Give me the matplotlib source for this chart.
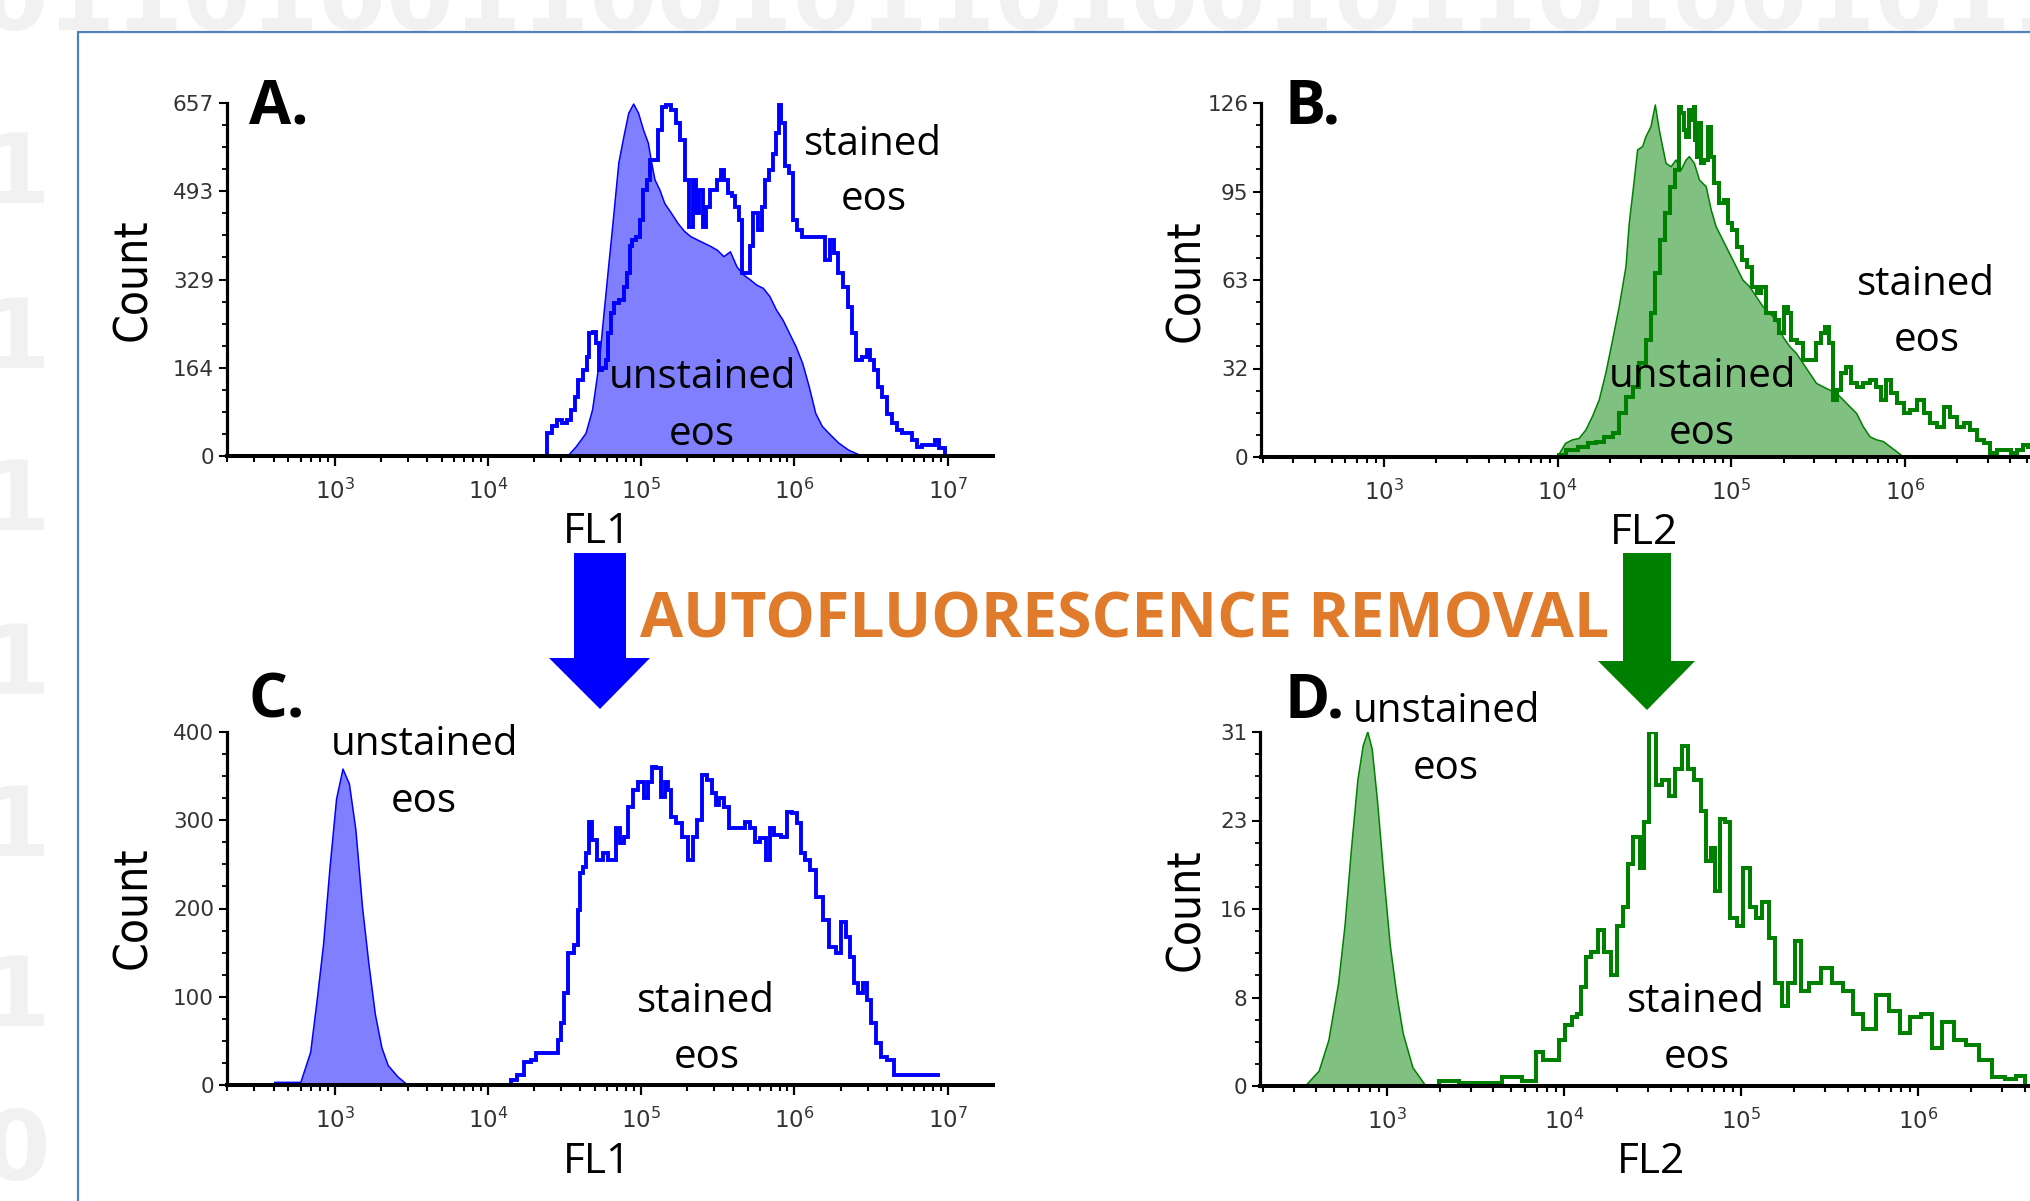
import matplotlib
matplotlib.use("Agg")
import matplotlib.pyplot as plt
import numpy as np
from matplotlib.patches import Polygon, Rectangle
from matplotlib.ticker import LogLocator, NullFormatter, FixedLocator

W, H = 2030, 1201

# ---------------- data (log10 fluorescence, counts) ----------------
a_unst_log = [4.522, 4.576, 4.640, 4.683, 4.726, 4.758, 4.790, 4.812, 4.854, 4.887,
              4.919, 4.951, 4.983, 5.015, 5.047, 5.069, 5.090, 5.122, 5.154, 5.197,
              5.240, 5.283, 5.325, 5.368, 5.411, 5.454, 5.497, 5.540, 5.582, 5.625,
              5.668, 5.711, 5.754, 5.797, 5.839, 5.882, 5.925, 5.968, 6.011, 6.054,
              6.096, 6.139, 6.182, 6.225, 6.289, 6.353, 6.439]
a_unst_cnt = [0, 17, 42, 86, 172, 266, 359, 421, 545, 594,
              638, 655, 638, 607, 582, 545, 514, 495, 470, 452,
              433, 418, 408, 402, 396, 390, 383, 371, 380, 352,
              337, 328, 318, 312, 297, 272, 253, 228, 203, 172,
              129, 79, 55, 42, 24, 11, 0]

a_st_log = [4.362, 4.405, 4.426, 4.469, 4.501, 4.533, 4.555, 4.576, 4.597, 4.640,
            4.651, 4.672, 4.694, 4.715, 4.737, 4.758, 4.779, 4.790, 4.812, 4.833,
            4.876, 4.897, 4.919, 4.929, 4.951, 4.983, 5.004, 5.026, 5.047, 5.069,
            5.101, 5.122, 5.143, 5.176, 5.208, 5.240, 5.272, 5.293, 5.325, 5.347,
            5.368, 5.390, 5.411, 5.433, 5.465, 5.486, 5.507, 5.529, 5.550, 5.582,
            5.604, 5.625, 5.647, 5.668, 5.700, 5.722, 5.743, 5.775, 5.797, 5.818,
            5.850, 5.872, 5.893, 5.904, 5.925, 5.946, 5.979, 6.000, 6.032, 6.064,
            6.182, 6.214, 6.246, 6.268, 6.300, 6.332, 6.364, 6.385, 6.418, 6.460,
            6.482, 6.503, 6.535, 6.557, 6.589, 6.621, 6.653, 6.685, 6.717, 6.749,
            6.782, 6.814, 6.850, 6.900, 6.930, 6.960, 7.000]
a_st_cnt = [0, 42, 55, 67, 61, 67, 86, 110, 141, 160,
            185, 228, 231, 210, 160, 163, 179, 228, 266, 284,
            290, 315, 340, 390, 402, 408, 439, 495, 514, 551,
            551, 607, 650, 653, 644, 619, 588, 514, 427, 514,
            452, 495, 427, 464, 495, 495, 514, 532, 514, 489,
            483, 464, 439, 340, 340, 390, 452, 421, 464, 514,
            532, 563, 601, 653, 619, 539, 526, 439, 421, 408,
            408, 365, 402, 377, 340, 315, 278, 228, 179, 185,
            197, 179, 160, 129, 110, 79, 61, 48, 42, 42,
            30, 17, 20, 20, 30, 15, 0]

b_unst_log = [3.998, 4.046, 4.085, 4.123, 4.162, 4.200, 4.239, 4.277, 4.316, 4.354,
              4.393, 4.412, 4.441, 4.460, 4.489, 4.508, 4.537, 4.562, 4.585, 4.604,
              4.624, 4.653, 4.681, 4.710, 4.739, 4.758, 4.787, 4.816, 4.855, 4.884,
              4.912, 4.951, 4.989, 5.028, 5.066, 5.105, 5.143, 5.182, 5.220, 5.259,
              5.297, 5.336, 5.374, 5.413, 5.451, 5.490, 5.528, 5.567, 5.605, 5.644,
              5.682, 5.721, 5.759, 5.798, 5.836, 5.875, 5.913, 5.952, 5.990]
b_unst_cnt = [0, 4.9, 6.1, 6.6, 9.6, 14.4, 20.3, 29.8, 41.6, 53.5,
              67.7, 83.2, 98.6, 109.3, 110.5, 114.0, 117.6, 125.3, 116.4, 110.5,
              104.5, 103.3, 105.7, 102.1, 105.7, 106.9, 104.5, 98.6, 96.2, 87.9,
              82.0, 77.2, 72.5, 67.7, 63.0, 60.6, 57.1, 53.5, 51.1, 48.8,
              42.8, 39.3, 36.9, 33.3, 29.8, 26.2, 25.0, 23.8, 22.7, 20.3,
              17.9, 15.5, 10.8, 7.2, 6.1, 5.5, 3.7, 1.9, 0]

b_st_log = [4.008, 4.085, 4.142, 4.200, 4.239, 4.296, 4.335, 4.373, 4.412, 4.450,
            4.489, 4.527, 4.547, 4.576, 4.604, 4.633, 4.662, 4.691, 4.701, 4.720,
            4.730, 4.749, 4.758, 4.778, 4.787, 4.797, 4.807, 4.816, 4.835, 4.855,
            4.874, 4.893, 4.912, 4.941, 4.970, 4.989, 5.018, 5.047, 5.076, 5.105,
            5.134, 5.163, 5.182, 5.211, 5.240, 5.259, 5.288, 5.317, 5.336, 5.355,
            5.394, 5.432, 5.471, 5.500, 5.528, 5.548, 5.577, 5.596, 5.615, 5.644,
            5.673, 5.702, 5.740, 5.779, 5.817, 5.846, 5.875, 5.904, 5.933, 5.971,
            6.010, 6.048, 6.087, 6.125, 6.164, 6.202, 6.241, 6.279, 6.318, 6.356,
            6.395, 6.433, 6.472, 6.510, 6.549, 6.587, 6.626, 6.664, 6.693, 6.722]
b_st_cnt = [0.7, 2.5, 3.7, 4.9, 5.5, 7.2, 8.4, 15.5, 21.5, 25.0,
            33.3, 41.6, 51.1, 65.4, 77.2, 86.7, 96.2, 102.1, 124.7, 122.3,
            116.4, 114.0, 123.5, 119.9, 124.7, 112.8, 106.9, 118.8, 104.5, 105.7,
            117.6, 106.9, 97.4, 90.3, 91.5, 83.2, 80.8, 74.9, 70.1, 67.7,
            60.6, 58.3, 60.6, 51.1, 51.1, 48.8, 44.0, 53.5, 51.1, 41.6,
            40.5, 34.5, 34.5, 40.5, 44.0, 46.4, 40.5, 20.3, 23.8, 29.8,
            32.2, 26.2, 25.0, 26.2, 27.4, 25.0, 20.3, 27.4, 22.7, 19.1,
            15.5, 16.7, 20.3, 15.5, 12.0, 10.8, 17.9, 14.4, 10.8, 12.0,
            9.6, 6.1, 4.9, 1.3, 2.5, 2.5, 1.3, 2.5, 4.3, 3.7]

c_unst_log = [2.61, 2.78, 2.844, 2.885, 2.928, 2.970, 3.013, 3.055, 3.097, 3.139,
              3.182, 3.224, 3.266, 3.309, 3.350, 3.414, 3.477]
c_unst_cnt = [3, 3, 37, 94, 159, 246, 324, 358, 341, 289,
              202, 137, 80, 42, 22, 9, 0]

c_st_log = [4.135, 4.167, 4.210, 4.264, 4.296, 4.328, 4.446, 4.467, 4.489, 4.510,
            4.532, 4.585, 4.596, 4.607, 4.628, 4.650, 4.671, 4.692, 4.735, 4.767,
            4.800, 4.832, 4.843, 4.875, 4.896, 4.928, 4.960, 5.003, 5.035, 5.057,
            5.078, 5.110, 5.143, 5.164, 5.185, 5.207, 5.250, 5.282, 5.325, 5.346,
            5.378, 5.411, 5.453, 5.475, 5.496, 5.517, 5.560, 5.582, 5.668, 5.689,
            5.732, 5.754, 5.796, 5.829, 5.850, 5.882, 5.936, 5.968, 6.000, 6.032,
            6.054, 6.086, 6.118, 6.161, 6.204, 6.246, 6.289, 6.321, 6.354, 6.375,
            6.397, 6.429, 6.461, 6.482, 6.514, 6.547, 6.579, 6.632, 6.665, 6.697,
            6.933]
c_st_cnt = [0, 5.7, 11.3, 26.4, 28.3, 35.9, 35.9, 51.0, 69.9, 103.9,
            149.2, 158.6, 198.3, 239.8, 247.4, 262.5, 298.4, 277.6, 254.9, 262.5,
            254.9, 254.9, 290.8, 273.8, 281.4, 315.4, 334.3, 343.7, 324.8, 343.7,
            360.7, 358.8, 326.7, 343.7, 334.3, 304.0, 296.5, 281.4, 254.9, 281.4,
            300.3, 351.3, 345.6, 330.5, 317.3, 324.8, 315.4, 290.8, 290.8, 298.4,
            290.8, 275.7, 279.5, 254.9, 290.8, 283.3, 281.4, 309.7, 307.8, 296.5,
            262.5, 254.9, 243.6, 213.4, 187.0, 156.7, 149.2, 185.1, 168.1, 145.4,
            115.2, 103.9, 115.2, 96.3, 69.9, 47.2, 32.1, 28.3, 11.3, 11.3,
            11.3]

d_unst_log = [2.54, 2.617, 2.672, 2.727, 2.763, 2.80, 2.836, 2.866, 2.892, 2.917,
              2.946, 2.983, 3.019, 3.056, 3.092, 3.147, 3.220]
d_unst_cnt = [0, 1.3, 4.0, 9.0, 14.0, 20.8, 26.8, 29.8, 31.0, 29.5,
              25.1, 18.4, 12.3, 8.0, 4.6, 1.6, 0]

d_st_log = [3.238, 3.349, 3.458, 3.605, 3.695, 3.824, 3.861, 3.897, 3.952, 3.989,
            4.025, 4.062, 4.080, 4.116, 4.134, 4.171, 4.208, 4.245, 4.281, 4.318,
            4.354, 4.373, 4.409, 4.446, 4.464, 4.500, 4.537, 4.573, 4.610, 4.646,
            4.682, 4.719, 4.755, 4.792, 4.810, 4.846, 4.865, 4.902, 4.921, 4.957,
            4.993, 5.030, 5.066, 5.103, 5.139, 5.175, 5.212, 5.249, 5.285, 5.322,
            5.358, 5.413, 5.486, 5.541, 5.614, 5.651, 5.724, 5.797, 5.870, 5.925,
            5.980, 6.053, 6.108, 6.163, 6.236, 6.309, 6.382, 6.455, 6.528, 6.583,
            6.630]
d_st_cnt = [0, 0.4, 0.3, 0.3, 0.8, 0.4, 2.95, 2.3, 2.3, 4.0,
            5.3, 6.0, 6.3, 8.7, 11.3, 11.7, 13.7, 11.7, 9.7, 14.0,
            15.7, 19.4, 21.8, 19.1, 23.1, 31.0, 26.4, 26.8, 25.4, 27.8,
            29.8, 27.8, 26.8, 24.1, 19.7, 20.8, 17.1, 23.4, 23.1, 14.7,
            14.0, 19.1, 15.7, 14.7, 16.1, 13.0, 9.0, 7.0, 9.0, 12.7,
            8.3, 9.0, 10.3, 9.0, 8.3, 6.3, 5.0, 8.0, 6.6, 4.6,
            6.0, 6.3, 3.3, 5.6, 4.0, 3.6, 2.3, 0.8, 0.6, 0.9,
            0]

# axis tick labels
a_yticklabels = ["0", "164", "329", "493", "657"]
b_yticklabels = ["0", "32", "63", "95", "126"]
c_yticklabels = ["0", "100", "200", "300", "400"]
d_yticklabels = ["0", "8", "16", "23", "31"]
a_ymax, b_ymax, c_ymax, d_ymax = 657, 126, 400, 31
a_decades = [3, 4, 5, 6, 7]
b_decades = [3, 4, 5, 6]
c_decades = [3, 4, 5, 6, 7]
d_decades = [3, 4, 5, 6]

panel_letters = ["A.", "B.", "C.", "D."]
x_labels = ["FL1", "FL2", "FL1", "FL2"]
title_text = "AUTOFLUORESCENCE REMOVAL"

BLUE = "#0000ff"
BLUE_FILL = "#8080ff"
GREEN = "#008000"
GREEN_FILL = "#80c080"
ORANGE = "#e07b2c"
FRAME = "#4f81bd"
BG_DIGIT = "#f1f1f1"

plt.rcParams["mathtext.fontset"] = "dejavusans"
plt.rcParams["font.family"] = ["DejaVu Sans"]

fig = plt.figure(figsize=(W / 100, H / 100), dpi=100)
fig.patch.set_facecolor("white")


def fx(x):
    return x / W


def fy(y):
    return 1 - y / H


def ftext(x, y, s, **kw):
    return fig.text(fx(x), fy(y), s, **kw)


# ---------------- faint background digits + frame ----------------
ftext(-20, 30, "0110100110010110100101101001011010010110100101", fontsize=70,
      fontweight="bold", color=BG_DIGIT, ha="left", va="baseline", zorder=-3,
      family="DejaVu Sans")
for s, yb in [("1", 203), ("1", 368), ("1", 530), ("1", 694),
              ("1", 856), ("1", 1026), ("0", 1180)]:
    ftext(-18, yb, s, fontsize=70, fontweight="bold", color=BG_DIGIT,
          ha="left", va="baseline", zorder=-3, family="DejaVu Sans")

frame = Rectangle((fx(78), -0.05), 1.2, fy(32) + 0.05, transform=fig.transFigure,
                  facecolor="white", edgecolor=FRAME, lw=1.6, zorder=-2)
fig.patches.append(frame)


# ---------------- axes ----------------
def make_axes(l, r, t, b):
    return fig.add_axes([fx(l), fy(b), fx(r) - fx(l), fy(t) - fy(b)])


def setup(ax, xlo, xhi, ymax, ylabels, decades):
    ax.set_facecolor("none")
    ax.set_xscale("log")
    ax.set_xlim(10 ** xlo, 10 ** xhi)
    ax.set_ylim(0, ymax)
    for s in ["top", "right"]:
        ax.spines[s].set_visible(False)
    ax.spines["bottom"].set_linewidth(2.9)
    ax.spines["left"].set_linewidth(2.3)
    ax.spines["bottom"].set_zorder(5)
    ax.set_yticks([ymax * i / 4 for i in range(5)])
    ax.set_yticklabels(ylabels)
    ax.yaxis.set_minor_locator(FixedLocator([ymax * i / 16 for i in range(17) if i % 4]))
    ax.set_xticks([10.0 ** d for d in decades])
    ax.set_xticklabels([r"$10^{%d}$" % d for d in decades])
    ax.xaxis.set_minor_locator(LogLocator(base=10, subs=np.arange(2, 10), numticks=60))
    ax.xaxis.set_minor_formatter(NullFormatter())
    ax.tick_params(axis="x", which="major", length=7, width=1.6, pad=9,
                   labelsize=16.5, labelcolor="#333333", color="black")
    ax.tick_params(axis="x", which="minor", length=4.2, width=1.5, color="black")
    ax.tick_params(axis="y", which="major", length=6, width=1.5, pad=3,
                   labelsize=15.5, labelcolor="#333333", color="black")
    ax.tick_params(axis="y", which="minor", length=3.5, width=1.3, color="black")


def draw(ax, unst_log, unst_cnt, st_log, st_cnt, line_c, fill_c, st_lw):
    ux = 10 ** np.asarray(unst_log)
    ax.fill_between(ux, unst_cnt, 0, facecolor=fill_c, edgecolor="none", zorder=2)
    ax.plot(ux, unst_cnt, color=line_c, lw=1.1, zorder=3)
    ax.plot(10 ** np.asarray(st_log), st_cnt, color=line_c, lw=st_lw, zorder=4,
            solid_joinstyle="miter", drawstyle="steps-mid")


axA = make_axes(226.5, 993, 103, 456)
axB = make_axes(1261, 2030, 103, 457)
axC = make_axes(226.5, 993, 732, 1085)
axD = make_axes(1260, 2030, 732, 1086)

draw(axA, a_unst_log, a_unst_cnt, a_st_log, a_st_cnt, BLUE, BLUE_FILL, 2.8)
draw(axB, b_unst_log, b_unst_cnt, b_st_log, b_st_cnt, GREEN, GREEN_FILL, 2.9)
draw(axC, c_unst_log, c_unst_cnt, c_st_log, c_st_cnt, BLUE, BLUE_FILL, 2.8)
draw(axD, d_unst_log, d_unst_cnt, d_st_log, d_st_cnt, GREEN, GREEN_FILL, 2.9)

setup(axA, 2.295, 7.295, a_ymax, a_yticklabels, a_decades)
setup(axB, 2.292, 6.719, b_ymax, b_yticklabels, b_decades)
setup(axC, 2.295, 7.295, c_ymax, c_yticklabels, c_decades)
setup(axD, 2.283, 6.633, d_ymax, d_yticklabels, d_decades)

# ---------------- texts ----------------
ANN = dict(family=["Open Sans", "DejaVu Sans"], fontsize=29, color="black",
           ha="center", va="baseline")
LET = dict(family=["Open Sans", "DejaVu Sans"], fontsize=44, fontweight="bold",
           color="black", ha="left", va="baseline")
XL = dict(family=["Open Sans", "DejaVu Sans"], fontsize=30.5, color="black",
          ha="center", va="baseline")
CNT = dict(family="DejaVu Sans", fontsize=33, color="black", rotation=90,
           ha="center", va="baseline", rotation_mode="anchor", fontstretch="condensed")

# panel letters
for (x, y), s in zip([(249, 124), (1284, 124), (249, 717), (1284, 717)], panel_letters):
    ftext(x, y, s, **LET)

# x-axis labels
for (x, y), s in zip([(597, 543), (1644, 544), (597, 1173), (1651, 1173)], x_labels):
    ftext(x, y, s, **XL)

# y-axis labels
for x, y in [(146, 280), (1199, 281), (146, 908), (1199, 910)]:
    ftext(x, y, "Count", **CNT)

# annotations
ftext(873, 155, "stained", **ANN)
ftext(874, 210, "eos", **ANN)
ftext(703, 388, "unstained", **ANN)
ftext(702, 445, "eos", **ANN)

ftext(1926, 295, "stained", **ANN)
ftext(1927, 351, "eos", **ANN)
ftext(1703, 387, "unstained", **ANN)
ftext(1702, 444, "eos", **ANN)

ftext(424, 755, "unstained", **ANN)
ftext(424, 812, "eos", **ANN)
ftext(706, 1012, "stained", **ANN)
ftext(707, 1068, "eos", **ANN)

ftext(1446, 722, "unstained", **ANN)
ftext(1446, 779, "eos", **ANN)
ftext(1696, 1012, "stained", **ANN)
ftext(1697, 1068, "eos", **ANN)

# title
ftext(1125, 637, title_text, family=["Open Sans", "DejaVu Sans"], fontsize=45,
      fontweight="bold", color=ORANGE, ha="center", va="baseline")


# arrows
def arrow(cx, x0, x1, top, hy, hx0, hx1, tip, color):
    pts = [(x0, top), (x1, top), (x1, hy), (hx1, hy), (cx, tip), (hx0, hy), (x0, hy)]
    poly = Polygon([(fx(a), fy(b)) for a, b in pts], closed=True,
                   transform=fig.transFigure, facecolor=color, edgecolor="none", zorder=4)
    fig.patches.append(poly)


arrow(600, 574, 626, 553, 658, 549, 650, 709, BLUE)
arrow(1647, 1623, 1671, 553, 661, 1598, 1695, 710, GREEN)

fig.savefig("out.png", dpi=100, facecolor="white")
